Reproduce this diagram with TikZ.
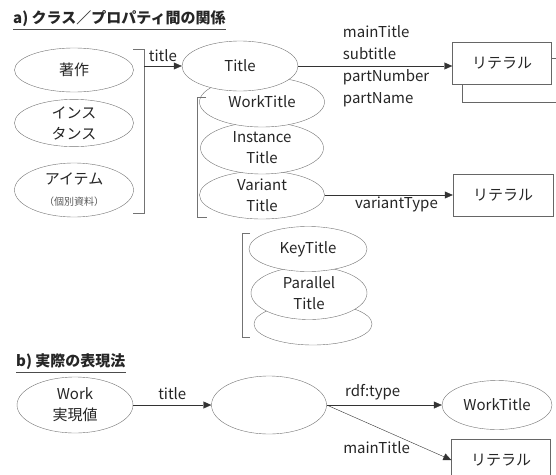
\documentclass[tikz,border=0pt]{standalone}
\usepackage{fontspec}
\setmainfont{Noto Sans CJK JP}
\usetikzlibrary{shapes.geometric, arrows.meta, positioning}

\tikzset{
  ell/.style={ellipse, draw=black!55, fill=white, inner sep=0pt, align=center, text=black!85},
  lit/.style={rectangle, draw=black!60, fill=white, minimum width=99pt, minimum height=42pt, inner sep=0pt, text=black!85},
  lbl/.style={text=black!85, inner sep=2pt},
  brk/.style={draw=black!55},
  conn/.style={->, draw=black!80},
  head/.style={anchor=west, inner sep=0pt, font=\fontsize{15}{17}\selectfont\bfseries, text=black!85},
}

\begin{document}
\begin{tikzpicture}[x=1pt, y=-1pt, font=\fontsize{15}{21}\selectfont, >={Triangle[length=8pt,width=7pt]}]
\useasboundingbox (0,0) rectangle (556,474);

% a) classes and properties
\node[head] (heada) at (13,19) {a) クラス／プロパティ間の関係};
\draw[black!70] ([yshift=-2pt]heada.south west) -- ([yshift=-2pt]heada.south east);

\node[ell, minimum width=119pt, minimum height=44pt] (chosaku) at (74,70) {著作};
\node[ell, minimum width=119pt, minimum height=47pt] (inst) at (74,123) {インス\\タンス};
\node[ell, minimum width=119pt, minimum height=54pt] (item) at (74,190) {アイテム\\{\fontsize{10}{13}\selectfont\color{black!65}（個別資料）}};

\draw[brk] (133,49) -- (144,49) -- (144,213) -- (133,213);
\coordinate (fork) at (144,66);

% subclasses of Title, bottom first
\node[ell, minimum width=125pt, minimum height=48pt] (varttl) at (262,195) {Variant\\Title};
\node[ell, minimum width=123pt, minimum height=52pt] (instttl) at (262,148) {Instance\\Title};
\node[ell, minimum width=125pt, minimum height=50pt] (workttl) at (262,102) {WorkTitle};
\node[ell, minimum width=116pt, minimum height=50pt] (title) at (240,66) {Title};
\draw[brk] (206,97) -- (197,97) -- (197,217) -- (207,217);

\node[ell, minimum width=118pt, minimum height=42pt] (more) at (313,324) {};
\node[ell, minimum width=116pt, minimum height=53pt] (parttl) at (309,293) {Parallel\\Title};
\node[ell, minimum width=118pt, minimum height=45pt] (keyttl) at (308,249) {KeyTitle};
\draw[brk] (250,233) -- (242,233) -- (242,337) -- (250,337);

\node[lit, minimum width=110pt, minimum height=44pt, anchor=north west] (litback) at (462,58) {};
\node[lit] (lit) at (502,63.5) {リテラル};
\node[lit, minimum width=100pt] (litvar) at (503,195) {リテラル};

\draw[conn] (fork) -- node[lbl, above=2pt] {title} (fork -| title.west);
\draw[conn] (title.east) -- node[lbl, align=left, pos=0.57, font=\fontsize{15}{22}\selectfont] {mainTitle\\subtitle\\partNumber\\partName} (title.east -| lit.west);
\draw[conn] (varttl.east) -- node[lbl, below, pos=0.56] {variantType} (varttl.east -| litvar.west);

% b) how it is written
\node[head] (headb) at (16,362) {b) 実際の表現法};
\draw[black!70] ([yshift=-2pt]headb.south west) -- ([yshift=-2pt]headb.south east);

\node[ell, minimum width=116pt, minimum height=56pt] (bwork) at (75,405) {Work\\実現値};
\node[ell, minimum width=115pt, minimum height=58pt] (bnode) at (269,405) {};
\node[ell, minimum width=110pt, minimum height=49pt] (bwt) at (497,405) {WorkTitle};
\node[lit] (blit) at (501,460) {リテラル};

\draw[conn] (bwork) -- node[lbl, above=3pt] {title} (bnode);
\draw[conn] (bnode) -- node[lbl, above=3pt, pos=0.4] {rdf:type} (bwt);
\draw[conn] (bnode.east) -- node[lbl, pos=0.4, below=12pt] {mainTitle} (blit.west);
\end{tikzpicture}
\end{document}
